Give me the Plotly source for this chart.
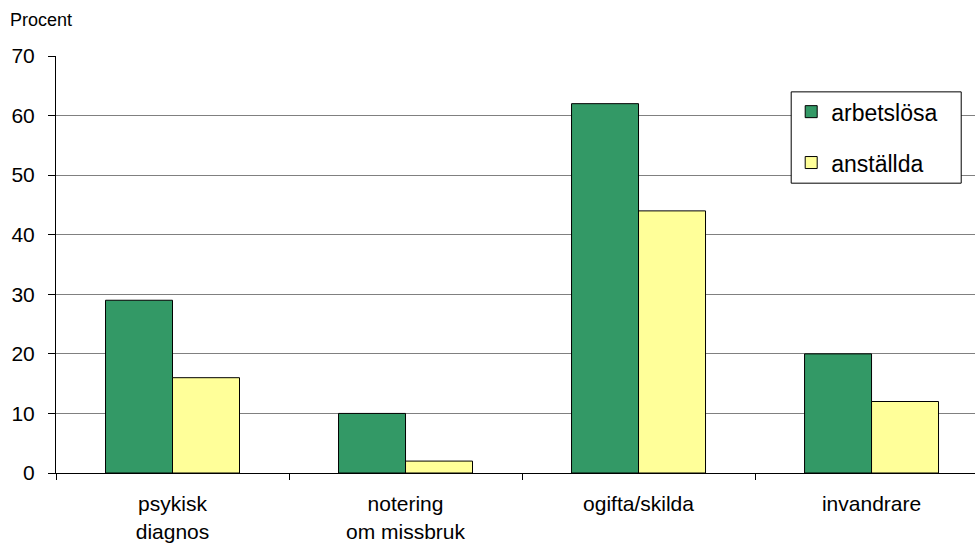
import plotly.graph_objects as go

categories = ["psykisk<br>diagnos", "notering<br>om missbruk", "ogifta/skilda", "invandrare"]
arbetslosa = [29, 10, 62, 20]
anstallda = [16, 2, 44, 12]
y_ticks = [0, 10, 20, 30, 40, 50, 60, 70]

FONT = "Arial, Liberation Sans, sans-serif"

fig = go.Figure()
fig.add_trace(go.Bar(
    x=categories, y=arbetslosa, name="arbetslösa",
    marker=dict(color="#339966", line=dict(color="black", width=1)),
    legendgroup="a",
))
fig.add_trace(go.Bar(
    x=categories, y=anstallda, name="anställda",
    marker=dict(color="#FFFF99", line=dict(color="black", width=1)),
    legendgroup="b",
))

fig.update_layout(
    width=975, height=546,
    margin=dict(l=56, r=0, t=56, b=73),
    paper_bgcolor="white", plot_bgcolor="white",
    font=dict(family=FONT, size=21, color="black"),
    barmode="group", bargap=0.425, bargroupgap=0,
    showlegend=True,
    legend=dict(
        x=0.80, y=0.918, xanchor="left", yanchor="top",
        bgcolor="rgba(0,0,0,0)", borderwidth=0,
        font=dict(size=23), tracegroupgap=18,
    ),
    shapes=[dict(
        type="rect", xref="paper", yref="paper",
        x0=0.800, x1=0.985, y0=0.695, y1=0.914,
        fillcolor="white", line=dict(color="black", width=1), layer="above",
    )],
    annotations=[dict(
        text="Procent", xref="paper", yref="paper", x=-0.052, y=1.087,
        xanchor="left", yanchor="middle", showarrow=False,
        font=dict(size=18),
    )],
)
fig.update_xaxes(
    type="category", range=[-0.5, 3.444], automargin=False,
    showline=True, linecolor="black", linewidth=1,
    ticks="outside", tickson="boundaries", ticklen=6, tickcolor="black",
    showgrid=False, ticklabelstandoff=12,
    tickfont=dict(size=21),
)
fig.update_yaxes(
    range=[0, 70], tickvals=y_ticks, automargin=False,
    showline=True, linecolor="black", linewidth=1,
    ticks="outside", ticklen=7, tickcolor="black",
    showgrid=True, gridcolor="#808080", gridwidth=1,
    zeroline=False, ticklabelstandoff=9,
    tickfont=dict(size=21),
)

fig.write_html("out.html")
